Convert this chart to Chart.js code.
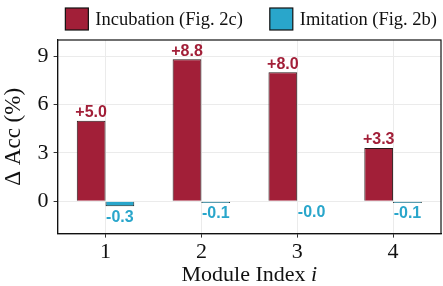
<!DOCTYPE html>
<html><head><meta charset="utf-8">
<script src="https://cdn.jsdelivr.net/npm/chart.js@4"></script>
<style>html,body{margin:0;padding:0;background:#fff}#wrap{width:443px;height:286px}</style>
</head><body><div id="wrap"><canvas id="c" width="443" height="286"></canvas></div>
<script>
const categories = ['1', '2', '3', '4'];
const incubation = [5.0, 8.8, 8.0, 3.3];
const imitation = [-0.3, -0.1, -0.02, -0.1];
const yTicks = [0, 3, 6, 9];
const seriesNames = ['Incubation (Fig. 2c)', 'Imitation (Fig. 2b)'];

const RED = '#a21f38', BLUE = '#29a6cb';
const SERIF = '"Liberation Serif", "Times New Roman", serif';
const SANS = '"Liberation Sans", Arial, sans-serif';

const extras = {
  id: 'extras',
  afterDatasetsDraw(chart) {
    const ctx = chart.ctx;
    ctx.save();
    ctx.font = 'bold 16px ' + SANS;
    ctx.textAlign = 'center';
    chart.data.datasets.forEach((ds, di) => {
      const meta = chart.getDatasetMeta(di);
      meta.data.forEach((bar, i) => {
        const v = ds.data[i];
        const txt = (v >= 0 ? '+' : '') + v.toFixed(1);
        ctx.fillStyle = di === 0 ? RED : BLUE;
        if (v >= 0) {
          ctx.textBaseline = 'bottom';
          ctx.fillText(txt, bar.x, bar.y);
        } else {
          ctx.textBaseline = 'top';
          ctx.fillText(txt, bar.x, Math.max(bar.y, bar.base) + 3);
        }
      });
    });
    ctx.restore();
  },
  afterDraw(chart) {
    const ctx = chart.ctx;
    const a = chart.chartArea;
    ctx.save();
    ctx.strokeStyle = '#111';
    ctx.lineWidth = 1.2;
    ctx.strokeRect(a.left, a.top, a.right - a.left, a.bottom - a.top);
    // legend
    ctx.font = '18.5px ' + SERIF;
    const box = 23, gapText = 7, gapItem = 27;
    const widths = chart.data.datasets.map(ds => ctx.measureText(ds.label).width);
    const total = widths.reduce((s, w) => s + box + gapText + w, 0) + gapItem * (widths.length - 1);
    let x = a.right - 4 - total;
    const yTop = 8, yMid = 19;
    chart.data.datasets.forEach((ds, i) => {
      ctx.fillStyle = ds.backgroundColor;
      ctx.fillRect(x, yTop, box, 22);
      ctx.strokeStyle = '#111';
      ctx.lineWidth = 1.2;
      ctx.strokeRect(x, yTop, box, 22);
      ctx.fillStyle = '#111';
      ctx.textAlign = 'left';
      ctx.textBaseline = 'middle';
      ctx.fillText(ds.label, x + box + gapText, yMid + 1);
      x += box + gapText + widths[i] + gapItem;
    });
    // x axis title with italic i
    ctx.textBaseline = 'alphabetic';
    const t1 = 'Module Index ';
    const t2 = 'i';
    ctx.font = '22px ' + SERIF;
    const w1 = ctx.measureText(t1).width;
    ctx.font = 'italic 22px ' + SERIF;
    const w2 = ctx.measureText(t2).width;
    const cx = (a.left + a.right) / 2;
    const x0 = cx - (w1 + w2) / 2;
    ctx.fillStyle = '#111';
    ctx.font = '22px ' + SERIF;
    ctx.fillText(t1, x0, 281);
    ctx.font = 'italic 22px ' + SERIF;
    ctx.fillText(t2, x0 + w1, 281);
    ctx.restore();
  }
};

new Chart(document.getElementById('c'), {
  type: 'bar',
  data: {
    labels: categories,
    datasets: [
      { label: seriesNames[0], data: incubation, backgroundColor: RED, borderColor: '#2a1a1a', borderWidth: 1, categoryPercentage: 0.6, barPercentage: 1.0 },
      { label: seriesNames[1], data: imitation, backgroundColor: BLUE, borderColor: '#1a2a2a', borderWidth: 1, categoryPercentage: 0.6, barPercentage: 1.0 }
    ]
  },
  options: {
    responsive: false,
    animation: false,
    devicePixelRatio: 1,
    layout: { padding: { left: 0, right: 2, top: 40, bottom: 20 } },
    plugins: {
      legend: { display: false },
      tooltip: { enabled: false }
    },
    scales: {
      x: {
        offset: true,
        grid: { offset: false, color: '#ebebeb', tickColor: '#333', tickLength: 4, drawTicks: true },
        border: { display: true, color: '#111', width: 1.2 },
        ticks: { font: { family: SERIF, size: 22 }, color: '#111', padding: 1 }
      },
      y: {
        min: -2, max: 10,
        afterBuildTicks(scale) { scale.ticks = yTicks.map(v => ({ value: v })); },
        grid: { color: '#ebebeb', tickColor: '#333', tickLength: 4 },
        border: { display: true, color: '#111', width: 1.2 },
        ticks: { font: { family: SERIF, size: 22 }, color: '#111', padding: 5 },
        title: { display: true, text: 'Δ Acc (%)', font: { family: SERIF, size: 23 }, color: '#111', padding: { top: 0, bottom: 5 } }
      }
    }
  },
  plugins: [extras]
});
</script></body></html>
